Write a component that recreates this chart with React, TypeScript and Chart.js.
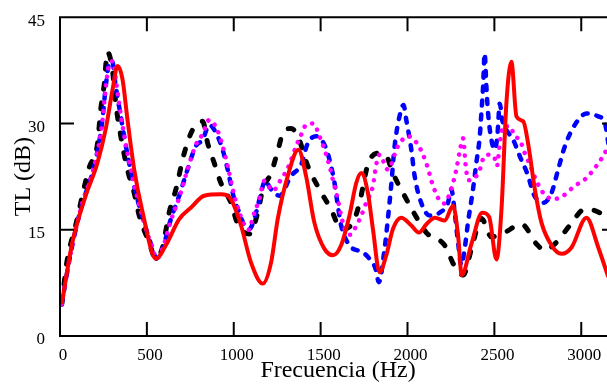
import React, { useEffect, useRef } from "react";
import { Chart, registerables } from "chart.js";

Chart.register(...registerables);

// ---- Data ----
const xTickValues = [0, 500, 1000, 1500, 2000, 2500, 3000];
const yTickValues = [0, 15, 30, 45];
const xMin = 0;
const xMax = 3200;
const yMin = 0;
const yMax = 45;

const redFreq = [10, 71, 148, 215, 263, 302, 331, 360, 388, 427, 475, 552, 609, 686, 753, 830, 926, 984, 1042, 1099, 1167, 1215, 1253, 1311, 1372, 1416, 1464, 1522, 1572, 1618, 1666, 1705, 1734, 1772, 1801, 1839, 1878, 1916, 1964, 2022, 2065, 2110, 2157, 2214, 2262, 2291, 2312, 2368, 2430, 2470, 2512, 2541, 2569, 2598, 2627, 2666, 2694, 2733, 2771, 2829, 2886, 2944, 3030, 3098, 3156];
const redTL = [4.5, 13.2, 19.8, 24.4, 29.2, 34.7, 38.1, 36.2, 30.6, 23.5, 17.5, 10.9, 12.8, 16.5, 18.1, 19.8, 20.0, 19.3, 15.6, 10.4, 7.4, 10.4, 16.5, 22.6, 26.3, 22.6, 16.0, 12.3, 11.4, 12.8, 17.0, 21.6, 23.0, 20.2, 15.1, 9.0, 11.4, 15.1, 16.7, 15.6, 14.6, 15.8, 16.7, 16.3, 18.4, 14.2, 8.6, 13.0, 17.4, 16.8, 10.8, 17.9, 32.8, 38.7, 31.0, 30.3, 27.2, 20.7, 16.0, 12.8, 11.6, 12.5, 16.7, 12.5, 8.3];

const blackFreq = [10, 40, 90, 167, 215, 235, 254, 273, 302, 321, 350, 388, 427, 456, 513, 552, 590, 628, 667, 715, 763, 821, 850, 888, 926, 984, 1023, 1090, 1138, 1167, 1215, 1253, 1282, 1330, 1369, 1426, 1493, 1560, 1618, 1686, 1724, 1772, 1830, 1878, 1916, 1974, 2041, 2108, 2214, 2272, 2320, 2368, 2425, 2483, 2558, 2656, 2742, 2790, 2848, 2934, 3021, 3078, 3156];
const blackTL = [4.5, 10.5, 15.6, 23.7, 27.0, 32.1, 35.4, 40.1, 37.5, 32.8, 28.2, 23.5, 20.2, 17.0, 13.2, 10.9, 12.5, 17.4, 20.7, 25.8, 29.1, 30.3, 27.2, 24.4, 21.6, 18.8, 15.8, 14.4, 17.4, 20.7, 23.0, 26.1, 28.6, 29.3, 28.2, 24.0, 20.7, 17.9, 15.1, 16.0, 18.8, 24.2, 25.8, 25.4, 23.0, 20.2, 17.2, 14.6, 12.8, 9.8, 8.6, 12.3, 16.6, 14.0, 14.6, 15.8, 13.0, 12.1, 13.0, 15.6, 17.9, 17.7, 16.7];

const blueFreq = [10, 60, 119, 206, 244, 263, 283, 300, 321, 350, 369, 398, 436, 484, 533, 555, 590, 638, 686, 734, 782, 821, 859, 907, 936, 965, 1003, 1032, 1061, 1090, 1128, 1157, 1180, 1215, 1263, 1330, 1388, 1426, 1474, 1522, 1551, 1580, 1599, 1618, 1666, 1743, 1781, 1816, 1835, 1868, 1887, 1906, 1926, 1954, 1977, 1993, 2022, 2041, 2079, 2128, 2185, 2233, 2252, 2272, 2291, 2310, 2329, 2348, 2377, 2396, 2416, 2425, 2435, 2444, 2454, 2464, 2483, 2502, 2517, 2531, 2545, 2569, 2608, 2646, 2694, 2723, 2752, 2781, 2829, 2867, 2906, 2963, 3030, 3098, 3136, 3156];
const blueTL = [4.5, 11.5, 17.9, 24.9, 30.5, 35.2, 38.5, 38.8, 35.2, 31.0, 28.2, 24.4, 20.2, 16.0, 12.3, 10.9, 12.3, 16.5, 19.8, 23.5, 26.8, 27.7, 29.8, 28.2, 26.3, 23.5, 19.3, 17.4, 15.6, 15.1, 17.4, 20.2, 21.9, 20.7, 19.8, 22.6, 24.2, 27.2, 28.2, 27.0, 24.9, 21.6, 18.4, 15.6, 12.8, 11.8, 10.9, 9.5, 7.6, 12.3, 16.5, 21.2, 26.8, 31.0, 32.6, 30.5, 26.3, 22.6, 18.8, 17.0, 17.4, 18.8, 20.7, 17.4, 13.2, 10.0, 12.3, 16.0, 20.7, 24.4, 28.2, 31.4, 35.2, 39.9, 35.2, 31.4, 27.7, 26.3, 28.2, 32.8, 30.5, 29.1, 27.7, 25.4, 22.6, 20.2, 19.1, 18.8, 20.2, 23.5, 26.8, 29.8, 31.4, 31.0, 30.1, 27.2];

const magentaFreq = [10, 60, 119, 206, 244, 263, 283, 305, 325, 350, 369, 398, 436, 484, 533, 555, 590, 638, 686, 734, 782, 821, 859, 907, 936, 965, 1003, 1032, 1061, 1090, 1109, 1147, 1176, 1224, 1272, 1311, 1359, 1388, 1416, 1459, 1493, 1532, 1551, 1570, 1599, 1618, 1647, 1670, 1695, 1734, 1762, 1801, 1820, 1839, 1887, 1945, 2003, 2060, 2108, 2147, 2185, 2210, 2233, 2262, 2281, 2300, 2320, 2335, 2350, 2387, 2416, 2440, 2470, 2500, 2515, 2531, 2550, 2589, 2617, 2646, 2675, 2704, 2742, 2781, 2838, 2896, 2963, 3021, 3078, 3126, 3156];
const magentaTL = [4.5, 11.5, 17.9, 24.9, 30.3, 35.0, 38.3, 38.8, 35.5, 31.2, 28.4, 24.6, 20.4, 16.0, 12.3, 10.9, 12.3, 16.3, 19.5, 23.5, 27.0, 28.5, 30.5, 29.0, 26.8, 24.0, 19.8, 17.5, 15.5, 15.0, 16.7, 19.3, 21.9, 20.5, 22.1, 23.7, 26.8, 28.4, 29.8, 30.0, 28.2, 25.6, 24.0, 22.1, 19.3, 17.0, 14.6, 14.3, 15.1, 17.0, 18.8, 21.2, 24.2, 25.6, 23.5, 26.8, 28.2, 27.0, 24.4, 21.2, 19.1, 18.7, 19.5, 21.6, 23.5, 26.0, 27.9, 24.0, 22.0, 22.3, 23.5, 25.3, 25.6, 25.2, 24.0, 27.2, 29.6, 29.6, 28.2, 27.7, 25.8, 24.2, 21.9, 20.2, 19.3, 19.8, 21.2, 22.1, 23.7, 25.4, 26.8];

const xTitle = "Frecuencia (Hz)";
const yTitle = "TL (dB)";

const toPoints = (xs: number[], ys: number[]) => xs.map((x, i) => ({ x, y: ys[i] }));

const frame = {
  id: "frame",
  afterDatasetsDraw(chart: any) {
    const { ctx, chartArea, scales } = chart;
    const { left, right, top, bottom } = chartArea;
    const len = 14;
    ctx.save();
    ctx.strokeStyle = "#000";
    ctx.lineWidth = 2;
    ctx.beginPath();
    ctx.rect(left, top, right - left, bottom - top);
    for (const t of scales.x.ticks) {
      const px = scales.x.getPixelForValue(t.value);
      ctx.moveTo(px, bottom);
      ctx.lineTo(px, bottom - len);
      ctx.moveTo(px, top);
      ctx.lineTo(px, top + len);
    }
    for (const t of scales.y.ticks) {
      const py = scales.y.getPixelForValue(t.value);
      ctx.moveTo(left, py);
      ctx.lineTo(left + len, py);
      ctx.moveTo(right, py);
      ctx.lineTo(right - len, py);
    }
    ctx.stroke();
    ctx.restore();
  },
};

export default function App() {
  const ref = useRef<HTMLCanvasElement | null>(null);
  useEffect(() => {
    if (!ref.current) return;
    const font = "'Liberation Serif', 'Times New Roman', serif";
    const chart = new Chart(ref.current, {
      type: "line",
      data: {
        datasets: [
          {
            label: "red",
            data: toPoints(redFreq, redTL),
            borderColor: "#ff0000",
            borderWidth: 4,
            pointRadius: 0,
            cubicInterpolationMode: "monotone",
            order: 1,
          },
          {
            label: "magenta",
            data: toPoints(magentaFreq, magentaTL),
            borderColor: "#ff00ff",
            borderWidth: 4.5,
            borderDash: [0.1, 8.5],
            borderCapStyle: "round",
            pointRadius: 0,
            cubicInterpolationMode: "monotone",
            order: 2,
          },
          {
            label: "blue",
            data: toPoints(blueFreq, blueTL),
            borderColor: "#0000ff",
            borderWidth: 4.5,
            borderDash: [5, 9],
            borderCapStyle: "round",
            pointRadius: 0,
            cubicInterpolationMode: "monotone",
            order: 3,
          },
          {
            label: "black",
            data: toPoints(blackFreq, blackTL),
            borderColor: "#000000",
            borderWidth: 5,
            borderDash: [6, 14],
            borderCapStyle: "round",
            pointRadius: 0,
            cubicInterpolationMode: "monotone",
            order: 4,
          },
        ],
      },
      options: {
        animation: false,
        responsive: false,
        devicePixelRatio: 1,
        layout: { padding: { top: 15, right: 6, left: 0, bottom: 0 } },
        plugins: { legend: { display: false }, tooltip: { enabled: false } },
        scales: {
          x: {
            type: "linear",
            min: xMin,
            max: xMax,
            grid: { display: false },
            border: { display: false },
            afterFit: (s: any) => {
              s.height = 49;
            },
            afterBuildTicks: (s: any) => {
              s.ticks = xTickValues.map((v) => ({ value: v }));
            },
            ticks: {
              color: "#000",
              font: { family: font, size: 17 },
              padding: 1,
              labelOffset: 3,
              maxRotation: 0,
              autoSkip: false,
              callback: (v: any) => String(v),
            },
            title: {
              display: true,
              text: xTitle,
              color: "#000",
              font: { family: font, size: 24 },
              padding: { top: 0, bottom: 0 },
            },
          },
          y: {
            type: "linear",
            min: yMin,
            max: yMax,
            grid: { display: false },
            border: { display: false },
            afterFit: (s: any) => {
              s.width = 60;
            },
            afterBuildTicks: (s: any) => {
              s.ticks = yTickValues.map((v) => ({ value: v }));
            },
            ticks: {
              color: "#000",
              font: { family: font, size: 17 },
              padding: 7,
              labelOffset: 4,
              autoSkip: false,
              callback: (v: any) => String(v),
            },
            title: {
              display: true,
              text: yTitle,
              color: "#000",
              font: { family: font, size: 24 },
              padding: { top: 9, bottom: 0 },
            },
          },
        },
      },
      plugins: [frame],
    });
    return () => chart.destroy();
  }, []);
  return (
    <div
      style={{
        position: "fixed",
        left: 0,
        top: 0,
        width: 607,
        height: 385,
        overflow: "hidden",
        background: "#fff",
      }}
    >
      <canvas ref={ref} width={622} height={385} style={{ width: 622, height: 385, display: "block" }} />
    </div>
  );
}
